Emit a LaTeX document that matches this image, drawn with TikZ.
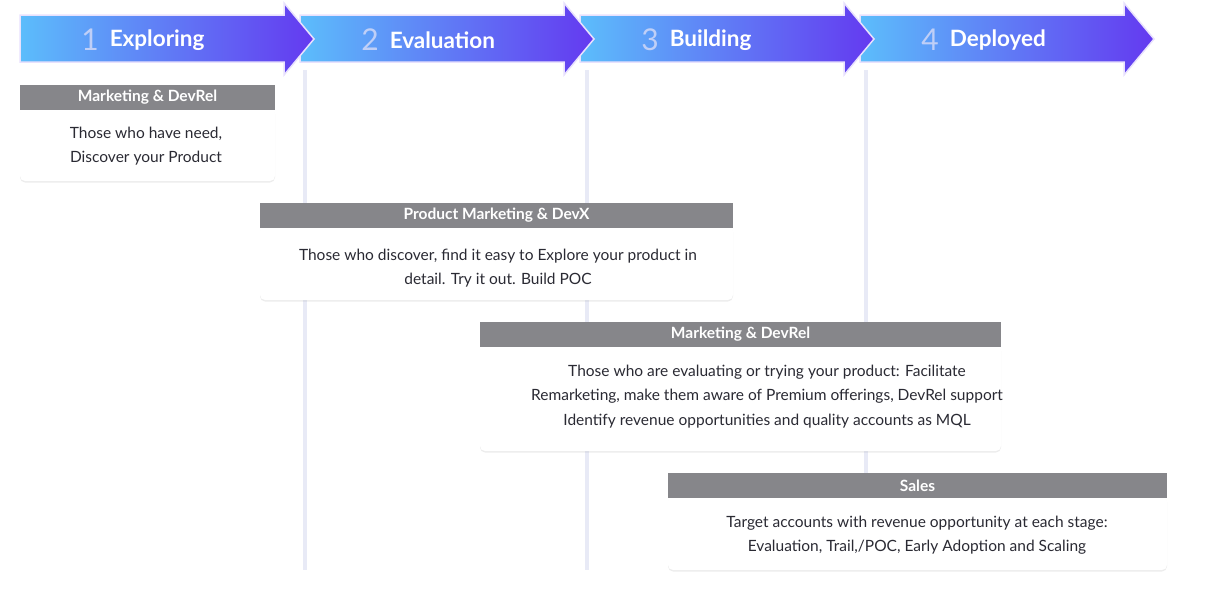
\documentclass[tikz,border=0pt]{standalone}
\usepackage{fontspec}
\setmainfont{Lato}
\usetikzlibrary{positioning,shadows}
\definecolor{headgray}{HTML}{86868A}
\definecolor{arrowA}{HTML}{5CBDFB}
\definecolor{arrowB}{HTML}{6439F0}
\definecolor{railcol}{HTML}{E8EAF6}
\definecolor{numcol}{HTML}{BFCFF7}
\definecolor{txt}{HTML}{2A2A33}
\tikzset{
	head/.style={fill=headgray,text=white,font=\bfseries\fontsize{15.5}{17}\selectfont,minimum height=25pt,inner sep=0pt},
	body/.style={fill=white,drop shadow={opacity=.15,shadow xshift=0pt,shadow yshift=-1.5pt},rounded corners=5pt},
	info/.style={text=txt,font=\fontsize{15.5}{24}\selectfont,align=center},
	rail/.style={draw=railcol,line width=3.5pt},
	phase/.style={left color=arrowA,right color=arrowB,draw=white!85!arrowB,line width=1.5pt}
}
\begin{document}
\begin{tikzpicture}[x=1pt,y=-1pt]
	\useasboundingbox (0,0) rectangle (1206,606);
	% rails
	\foreach \x in {305,587,866}
		\draw[rail] (\x,70) -- (\x,570);
	% phases
	\foreach \x/\n/\t in {860/4/Deployed,580/3/Building,300/2/Evaluation,20/1/Exploring}{
		\path[phase] (\x,15) -- (\x+264,15) -- (\x+264,3) -- (\x+294,39) -- (\x+264,75) -- (\x+264,62) -- (\x,62) -- cycle;
		\node[text=numcol,font=\fontsize{30}{32}\selectfont] (n\n) at (\x+70,40) {\n};
		\node[text=white,font=\bfseries\fontsize{22.5}{24}\selectfont,right=4pt of n\n] (p\n) {\t};
	}
	% roles
	\path[body] (20,108) rectangle (275,181);
	\node[head,minimum width=255pt] (r1) at (147.5,97.5) {Marketing \& DevRel};
	\node[info] (t1) at (146,146) {Those who have need,\\Discover your Product};

	\path[body] (260,226) rectangle (733,300);
	\node[head,minimum width=473pt] (r2) at (496.5,215.5) {Product Marketing \& DevX};
	\node[info] (t2) at (498,268) {Those who discover, find it easy to Explore your product in\\detail. Try it out. Build POC};

	\path[body] (480,345) rectangle (1001,451);
	\node[head,minimum width=521pt] (r3) at (740.5,334.5) {Marketing \& DevRel};
	\node[info] (t3) at (767,384) {Those who are evaluating or trying your product: Facilitate\\Remarketing, make them aware of Premium offerings, DevRel support};
	\node[info,below=4pt of t3] (t3b) {Identify revenue opportunities and quality accounts as MQL};

	\path[body] (668,496) rectangle (1167,570);
	\node[head,minimum width=499pt] (r4) at (917.5,485.5) {Sales};
	\node[info] (t4) at (917,535) {Target accounts with revenue opportunity at each stage:\\Evaluation, Trail,/POC, Early Adoption and Scaling};
\end{tikzpicture}
\end{document}
